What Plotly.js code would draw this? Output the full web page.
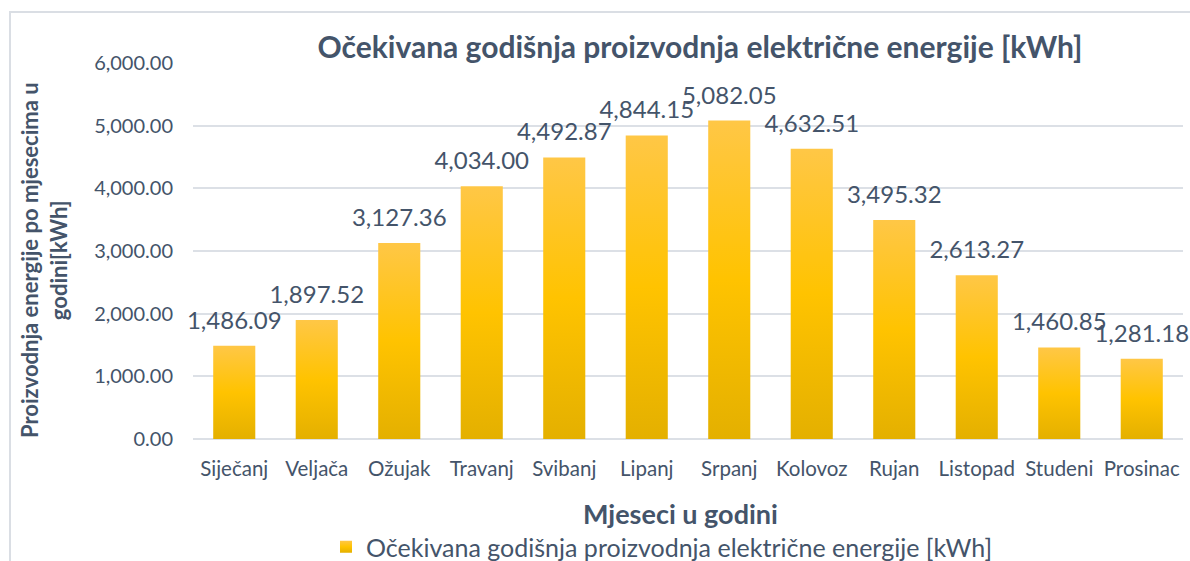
<!DOCTYPE html>
<html>
<head>
<meta charset="utf-8">
<script src="https://cdn.plot.ly/plotly-3.0.1.min.js"></script>
<style>
  html, body { margin: 0; padding: 0; background: #fff; }
  #wrap { position: relative; width: 1190px; height: 561px; overflow: hidden; }
  #chart { position: absolute; left: 0; top: 0; width: 1190px; height: 561px; }
  #frame { position: absolute; left: 9px; top: 11px; width: 1300px; height: 700px;
           border-left: 2px solid #DADEE4; border-top: 2px solid #DADEE4; pointer-events: none; }
</style>
</head>
<body>
<div id="wrap">
  <div id="chart"></div>
  <div id="frame"></div>
</div>
<script>
const months = ["Siječanj","Veljača","Ožujak","Travanj","Svibanj","Lipanj","Srpanj","Kolovoz","Rujan","Listopad","Studeni","Prosinac"];
const production = [1486.09, 1897.52, 3127.36, 4034.00, 4492.87, 4844.15, 5082.05, 4632.51, 3495.32, 2613.27, 1460.85, 1281.18];
const seriesName = "Očekivana godišnja proizvodnja električne energije [kWh]";
const chartTitle = "Očekivana godišnja proizvodnja električne energije [kWh]";
const xTitle = "Mjeseci u godini";
const yTitle = "Proizvodnja energije po mjesecima u<br>godini[kWh]";

const txt = "#44546A";
const font = "Lato, 'Open Sans', sans-serif";

const trace = {
  type: "bar",
  x: months,
  y: production,
  name: seriesName,
  marker: { color: "#FFC000", line: { width: 0 } },
  text: production.map(v => v.toLocaleString("en-US", {minimumFractionDigits: 2, maximumFractionDigits: 2})),
  textposition: "outside",
  textfont: { family: font, size: 24, color: txt },
  constraintext: "none",
  cliponaxis: false,
  hoverinfo: "x+y",
  showlegend: true
};

const layout = {
  width: 1190, height: 561,
  margin: { l: 193, r: 7, t: 63, b: 122 },
  paper_bgcolor: "rgba(0,0,0,0)",
  plot_bgcolor: "rgba(0,0,0,0)",
  font: { family: font, color: txt },
  bargap: 0.49,
  title: {
    text: "<b>" + chartTitle + "</b>",
    font: { family: font, size: 30, color: txt },
    xref: "container", x: 700/1190, xanchor: "center",
    yref: "container", y: 1 - 47/561, yanchor: "middle"
  },
  xaxis: {
    type: "category",
    tickfont: { family: font, size: 20.5, color: txt },
    showgrid: false, showline: false, zeroline: false, ticks: "",
    ticklabelstandoff: 15
  },
  yaxis: {
    range: [0, 6000],
    dtick: 1000,
    tickformat: ",.2f",
    tickfont: { family: font, size: 20, color: txt },
    showgrid: true, gridcolor: "#DCE0E6", gridwidth: 1.5,
    zeroline: true, zerolinecolor: "#DCE0E6", zerolinewidth: 1.5,
    showline: false, ticks: "",
    ticklabelstandoff: 19
  },
  annotations: [{
    text: "<b>" + yTitle + "</b>",
    textangle: -90,
    xref: "paper", yref: "paper",
    x: (44 - 193) / 990, y: 0.5 - 9/376,
    xanchor: "center", yanchor: "middle",
    showarrow: false,
    font: { family: font, size: 22, color: txt }
  }, {
    text: "<b>" + xTitle + "</b>",
    xref: "paper", yref: "paper",
    x: (680 - 193) / 990, y: -(513 - 439) / 376,
    xanchor: "center", yanchor: "middle",
    showarrow: false,
    font: { family: font, size: 27, color: txt }
  }],
  showlegend: true,
  legend: {
    orientation: "h",
    xref: "paper", x: (662 - 193) / 990, xanchor: "center",
    yref: "container", y: 1 - 547/561, yanchor: "middle",
    font: { family: font, size: 25, color: txt },
    itemwidth: 30,
    bgcolor: "rgba(0,0,0,0)"
  }
};

function applyGradient(gd) {
  const svg = gd.querySelector("svg.main-svg");
  let defs = svg.querySelector("defs");
  if (!defs) { defs = document.createElementNS("http://www.w3.org/2000/svg", "defs"); svg.insertBefore(defs, svg.firstChild); }
  if (!defs.querySelector("#goldGrad")) {
    const ns = "http://www.w3.org/2000/svg";
    const g = document.createElementNS(ns, "linearGradient");
    g.setAttribute("id", "goldGrad");
    g.setAttribute("x1", "0"); g.setAttribute("y1", "0");
    g.setAttribute("x2", "0"); g.setAttribute("y2", "1");
    [["0", "#FFC746"], ["0.5", "#FFC300"], ["1", "#E4B000"]].forEach(([o, c]) => {
      const s = document.createElementNS(ns, "stop");
      s.setAttribute("offset", o); s.setAttribute("stop-color", c);
      g.appendChild(s);
    });
    defs.appendChild(g);
  }
  gd.querySelectorAll(".trace.bars .point path, .legendpoints path").forEach(p => {
    p.style.fill = "url(#goldGrad)";
  });
  // lift data labels a little higher above the bars, as in the reference
  gd.querySelectorAll(".trace.bars .point text").forEach(t => {
    if (t.getAttribute("data-lifted")) return;
    const tr = t.getAttribute("transform") || "";
    t.setAttribute("transform", "translate(0,-9) " + tr);
    t.setAttribute("data-lifted", "1");
  });
}

Plotly.newPlot("chart", [trace], layout, { displayModeBar: false, responsive: false }).then(gd => {
  applyGradient(gd);
  gd.on("plotly_afterplot", () => applyGradient(gd));
});
</script>
</body>
</html>
